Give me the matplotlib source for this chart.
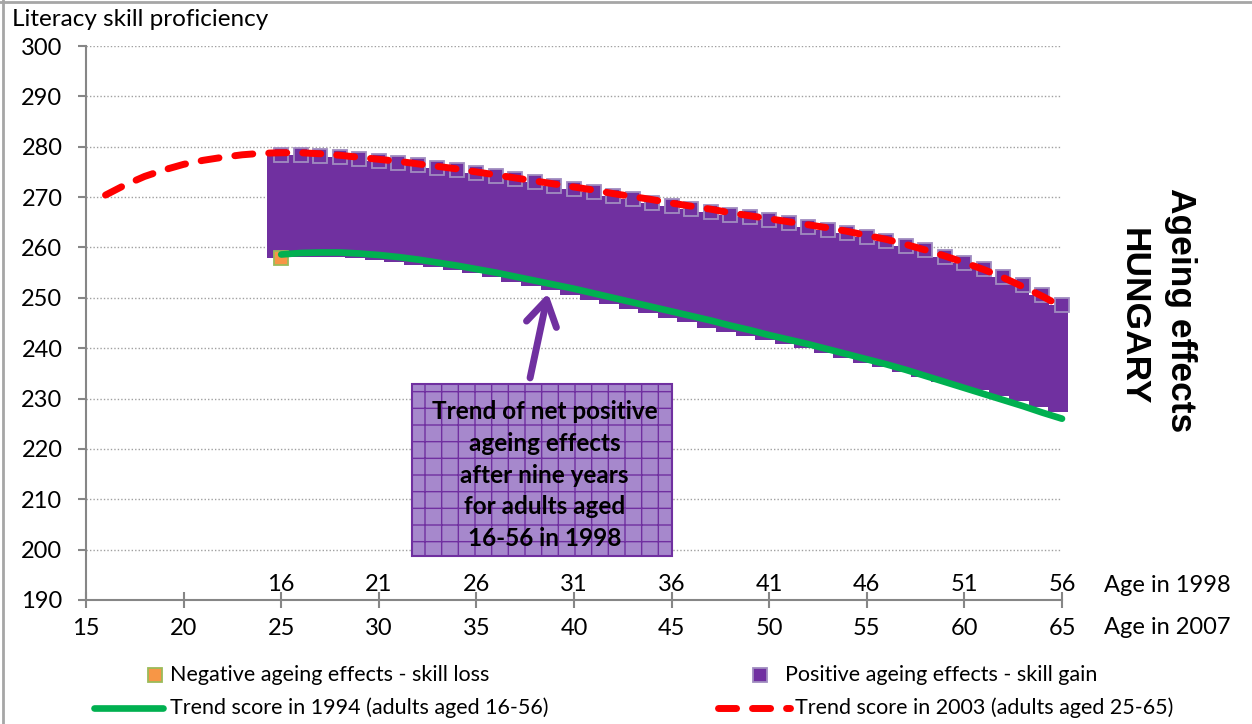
import matplotlib
matplotlib.use("Agg")
import matplotlib.pyplot as plt
import numpy as np
from matplotlib.lines import Line2D
from matplotlib.patches import Rectangle

plt.rcParams['font.family'] = ['Lato', 'DejaVu Sans']

# ages (age in 2007 on the main axis, age in 1998 on the upper labels)
ages_2007 = np.array(list(range(25, 66)))
ages_red = np.array(list(range(16, 66)))
ticks_2007 = [15, 20, 25, 30, 35, 40, 45, 50, 55, 60, 65]
ticks_1998_pos = [25, 30, 35, 40, 45, 50, 55, 60, 65]
ticks_1998_lab = [16, 21, 26, 31, 36, 41, 46, 51, 56]

# skill gain bars: upper end (2003 score) and lower end (1994 score)
gain_top = [278.3, 278.3, 278.2, 277.9, 277.5, 277.2, 276.7, 276.3, 275.7, 275.3,
            274.7, 274.1, 273.5, 272.9, 272.3, 271.7, 271.0, 270.3, 269.6, 268.9,
            268.3, 267.7, 267.1, 266.5, 266.0, 265.4, 264.8, 264.1, 263.5, 262.8,
            262.0, 261.2, 260.3, 259.4, 258.2, 257.0, 255.7, 254.2, 252.5, 250.6,
            248.5]
gain_bottom = [258.0, 258.2, 258.2, 258.1, 257.9, 257.6, 257.2, 256.6, 256.2, 255.5,
               254.9, 254.2, 253.2, 252.3, 251.5, 250.6, 249.6, 248.7, 247.7, 246.9,
               245.9, 245.1, 244.1, 243.3, 242.4, 241.6, 240.8, 240.0, 239.0, 238.0,
               237.1, 236.3, 235.3, 234.3, 233.3, 232.3, 231.6, 230.5, 229.5, 228.4,
               227.3]

# negative effect (skill loss) point
loss_age = [25]
loss_val = [258.0]

# trend 1994 (adults aged 16-56), shown at their 2007 age
trend_1994 = [258.6, 258.9, 259.0, 259.0, 258.8, 258.5, 258.1, 257.6, 257.0, 256.4,
              255.7, 255.0, 254.2, 253.4, 252.6, 251.8, 250.9, 250.0, 249.1, 248.2,
              247.3, 246.4, 245.5, 244.5, 243.6, 242.6, 241.7, 240.8, 239.8, 238.8,
              237.8, 236.8, 235.7, 234.5, 233.3, 232.1, 230.9, 229.7, 228.5, 227.2,
              226.0]

# trend 2003 (adults aged 25-65)
trend_2003 = [270.4, 272.4, 274.1, 275.4, 276.5, 277.3, 277.9, 278.4, 278.7, 278.8,
              278.8, 278.6, 278.3, 277.9, 277.5, 277.1, 276.6, 276.1, 275.6, 275.0,
              274.4, 273.8, 273.2, 272.6, 272.0, 271.4, 270.7, 270.1, 269.5, 268.8,
              268.2, 267.6, 266.9, 266.3, 265.7, 265.1, 264.5, 263.9, 263.2, 262.4,
              261.6, 260.6, 259.5, 258.3, 257.0, 255.6, 254.0, 252.2, 250.3, 248.2]

purple = '#7030a0'
green = '#00b050'
red = '#ff0000'
orange = '#f79646'
axis_grey = '#868686'

W, H = 1252, 724
def fx(px):
    return px / W
def fy(py):
    return 1 - py / H

fig = plt.figure(figsize=(W / 100, H / 100), dpi=100)
ax = fig.add_axes([fx(86), fy(600), fx(1062) - fx(86), fy(46) - fy(600)])

ax.set_xlim(15, 65)
ax.set_ylim(190, 300)

top = np.array(gain_top)
bottom = np.array(gain_bottom)
ax.bar(ages_2007 - 0.2, top - bottom, bottom=bottom, width=1.03, color=purple,
       linewidth=0, clip_on=False, zorder=2)
ax.plot(ages_2007, top, ls='none', marker='s', ms=10, mfc=purple, mec='#a08cc0',
        mew=1.3, clip_on=False, zorder=3)
ax.plot(loss_age, loss_val, ls='none', marker='s', ms=10, mfc=orange, mec='#9bbb59',
        mew=1.3, clip_on=False, zorder=3)
ax.plot(ages_2007, trend_1994, color=green, lw=4.8, solid_capstyle='round', zorder=4,
        clip_on=False)
ax.plot(ages_red, trend_2003, color=red, lw=5, dashes=(2.6, 2.3), dash_capstyle='round',
        zorder=5, clip_on=False)

# axes styling
ax.set_yticks(list(range(190, 301, 10)))
ax.set_xticks(ticks_2007)
ax.tick_params(axis='y', direction='out', length=6, width=1.5, color=axis_grey,
               labelsize=17, pad=11)
ax.tick_params(axis='x', direction='inout', length=11.5, width=1.5, color=axis_grey,
               labelsize=17, pad=7)
for s in ['top', 'right']:
    ax.spines[s].set_visible(False)
for s in ['left', 'bottom']:
    ax.spines[s].set_color(axis_grey)
    ax.spines[s].set_linewidth(1.5)
ax.grid(axis='y', ls=(0, (1, 1.5)), color='#a0a0a0', lw=1)
ax.set_axisbelow(True)

for pos, lab in zip(ticks_1998_pos, ticks_1998_lab):
    ax.annotate(str(lab), (pos, 190), xytext=(0, 5), textcoords='offset pixels',
                ha='center', va='bottom', fontsize=17)

fig.text(fx(1104), fy(585), 'Age in 1998', fontsize=17, va='center')
fig.text(fx(1104), fy(628), 'Age in 2007', fontsize=17, va='center')
fig.text(fx(12), fy(20), 'Literacy skill proficiency', fontsize=17.5, va='center')

# annotation box with arrow
ax.add_patch(Rectangle((31.7, 198.7), 13.3, 34.2, facecolor='#a688cc', edgecolor=purple,
                       hatch='+', lw=1.5, zorder=6, clip_on=False))
ax.text(38.5, 214.8, 'Trend of net positive\nageing effects\nafter nine years\nfor adults aged\n16-56 in 1998',
        ha='center', va='center', fontsize=17.5, fontweight='bold', linespacing=1.45, zorder=7)
ax.annotate('', xy=(38.67, 250.9), xytext=(37.75, 234.1),
            arrowprops=dict(arrowstyle='->, head_length=0.9, head_width=0.55', lw=5,
                            color=purple, mutation_scale=20, shrinkA=0, shrinkB=0),
            zorder=7)

# right side title
fig.text(fx(1181), fy(310), 'Ageing effects', rotation=270, ha='center', va='center',
         fontsize=25.5, fontweight='bold', family=['Liberation Sans', 'DejaVu Sans'])
fig.text(fx(1133), fy(317), 'HUNGARY', rotation=270, ha='center', va='center',
         fontsize=25.5, fontweight='bold', family=['Liberation Sans', 'DejaVu Sans'])

# legend
fig.add_artist(Line2D([fx(155)], [fy(675)], ls='none', marker='s', ms=10, mfc=orange,
                      mec='#9bbb59', mew=1.3))
fig.text(fx(170), fy(675), 'Negative ageing effects - skill loss', fontsize=15.5, va='center')
fig.add_artist(Line2D([fx(760)], [fy(675)], ls='none', marker='s', ms=10, mfc=purple,
                      mec='#a08cc0', mew=1.3))
fig.text(fx(785), fy(675), 'Positive ageing effects - skill gain', fontsize=15.5, va='center')
fig.add_artist(Line2D([fx(94), fx(163)], [fy(708), fy(708)], color=green, lw=4.8,
                      solid_capstyle='round'))
fig.text(fx(170), fy(708), 'Trend score in 1994 (adults aged 16-56)', fontsize=15.5, va='center')
fig.add_artist(Line2D([fx(718), fx(790)], [fy(708), fy(708)], color=red, lw=5,
                      dashes=(2.6, 2.3), dash_capstyle='round'))
fig.text(fx(795), fy(708), 'Trend score in 2003 (adults aged 25-65)', fontsize=15.5, va='center')

# chart frame
fig.add_artist(Line2D([0, 1], [fy(2), fy(2)], color='#a6a6a6', lw=2))
fig.add_artist(Line2D([fx(3), fx(3)], [0, 1], color='#a6a6a6', lw=2))

fig.savefig('out.png', dpi=100)
